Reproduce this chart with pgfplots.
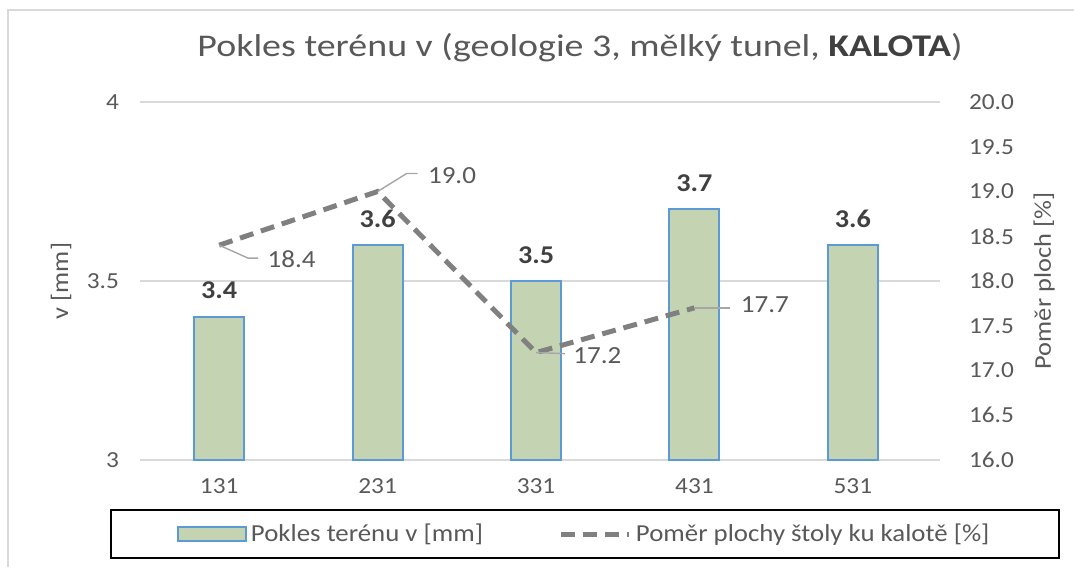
\documentclass[border=0pt]{standalone}
\usepackage{pgfplots}
\pgfplotsset{compat=1.18}
\usepackage{fontspec}
\setmainfont{Carlito}[FakeStretch=1.1]
\newfontfamily\titlefont{Carlito}[FakeStretch=1.2]
\definecolor{barfill}{RGB}{196,212,178}
\definecolor{baredge}{RGB}{91,155,213}
\definecolor{linegray}{RGB}{128,128,128}
\definecolor{txtgray}{RGB}{89,89,89}
\definecolor{darktxt}{RGB}{64,64,64}
\definecolor{gridgray}{RGB}{217,217,217}
\definecolor{leadgray}{RGB}{166,166,166}
\pgfplotsset{
  barlegend/.style={legend image code/.code={\draw[fill=barfill, draw=baredge, line width=1pt] (0pt,-3.5pt) rectangle (34pt,3.5pt);}},
  linelegend/.style={legend image code/.code={\draw[linegray, line width=2.5pt, dash pattern=on 7pt off 4pt] (0pt,0pt) -- (34pt,0pt);}},
}
\begin{document}
\begin{tikzpicture}[font=\fontsize{12}{14}\selectfont]
\useasboundingbox (0,0) rectangle (537pt,283.5pt);
\draw[gridgray, line width=1.2pt] (4pt,0) -- (4pt,278.5pt) -- (537pt,278.5pt);
\node[text=txtgray, font=\titlefont\fontsize{15.8}{18}\selectfont] at (290pt,259.5pt)
  {Pokles terénu v (geologie 3, mělký tunel, {\color{darktxt}\bfseries KALOTA})};
\begin{axis}[
  at={(70pt,53.5pt)}, anchor=south west,
  scale only axis, width=400pt, height=179pt,
  xmin=-0.5, xmax=4.55, ymin=3, ymax=4,
  xtick={0,1,2,3,4}, xticklabels={131,231,331,431,531},
  ytick={3,3.5,4},
  /pgf/number format/assume math mode=true,
  axis line style={draw=none}, major tick length=0pt,
  ymajorgrids, grid style={gridgray, line width=0.7pt},
  ticklabel style={text=txtgray, font=\fontsize{11.5}{14}\selectfont},
  xticklabel style={yshift=-6pt},
  yticklabel style={xshift=-7pt},
  ylabel={v [mm]},
  ylabel style={at={(axis description cs:-0.09875,0.5)}, anchor=center, text=txtgray, font=\fontsize{12}{14}\selectfont},
  ybar, bar width=25pt,
  nodes near coords,
  nodes near coords style={font=\bfseries\fontsize{12.8}{15}\selectfont, text=darktxt, anchor=south, yshift=5pt},
  legend columns=2,
  legend style={at={(axis description cs:0.5565,-0.2067)}, anchor=center, draw=black, line width=1pt,
    font=\fontsize{12.2}{14}\selectfont, text=txtgray, inner xsep=33pt, inner ysep=5pt,
    /tikz/every even column/.append style={column sep=36pt}},
  legend cell align=left,
]
\addplot[fill=barfill, draw=baredge, line width=1pt, barlegend]
  coordinates {(0,3.4) (1,3.6) (2,3.5) (3,3.7) (4,3.6)};
\addlegendentry{Pokles terénu v [mm]}
\addlegendimage{linelegend}
\addlegendentry{Poměr plochy štoly ku kalotě [\%]}
\end{axis}
\begin{axis}[
  at={(70pt,53.5pt)}, anchor=south west,
  scale only axis, width=400pt, height=179pt,
  xmin=-0.5, xmax=4.55, ymin=16, ymax=20,
  axis y line*=right, axis x line=none,
  ytick={16,16.5,17,17.5,18,18.5,19,19.5,20},
  /pgf/number format/assume math mode=true,
  /pgf/number format/fixed, /pgf/number format/fixed zerofill, /pgf/number format/precision=1,
  axis line style={draw=none}, major tick length=0pt,
  ticklabel style={text=txtgray, font=\fontsize{11.5}{14}\selectfont},
  yticklabel style={xshift=11pt},
  ylabel={Poměr ploch [\%]},
  ylabel style={at={(axis description cs:1.13,0.5)}, anchor=center, text=txtgray, font=\fontsize{12}{14}\selectfont},
]
\addplot[color=linegray, line width=2.5pt, dash pattern=on 7pt off 4pt, mark=none]
  coordinates {(0,18.4) (1,19.0) (2,17.2) (3,17.7)};
\draw[leadgray, line width=0.7pt] (axis cs:0,18.4) -- ++(14.5pt,-6.5pt) -- ++(5pt,0pt);
\node[anchor=west, inner sep=0pt, text=txtgray, font=\fontsize{12.3}{14}\selectfont, xshift=24pt, yshift=-7pt] at (axis cs:0,18.4) {18.4};
\draw[leadgray, line width=0.7pt] (axis cs:1,19.0) -- ++(14.5pt,9pt) -- ++(5.5pt,0pt);
\node[anchor=west, inner sep=0pt, text=txtgray, font=\fontsize{12.3}{14}\selectfont, xshift=25pt, yshift=8pt] at (axis cs:1,19.0) {19.0};
\draw[leadgray, line width=0.7pt] (axis cs:2,17.2) -- ++(14.5pt,-0.5pt);
\node[anchor=west, inner sep=0pt, text=txtgray, font=\fontsize{12.3}{14}\selectfont, xshift=18.5pt, yshift=-1.5pt] at (axis cs:2,17.2) {17.2};
\draw[leadgray, line width=0.7pt] (axis cs:3,17.7) -- ++(18pt,0pt);
\node[anchor=west, inner sep=0pt, text=txtgray, font=\fontsize{12.3}{14}\selectfont, xshift=23pt, yshift=1.5pt] at (axis cs:3,17.7) {17.7};
\end{axis}
\end{tikzpicture}
\end{document}
